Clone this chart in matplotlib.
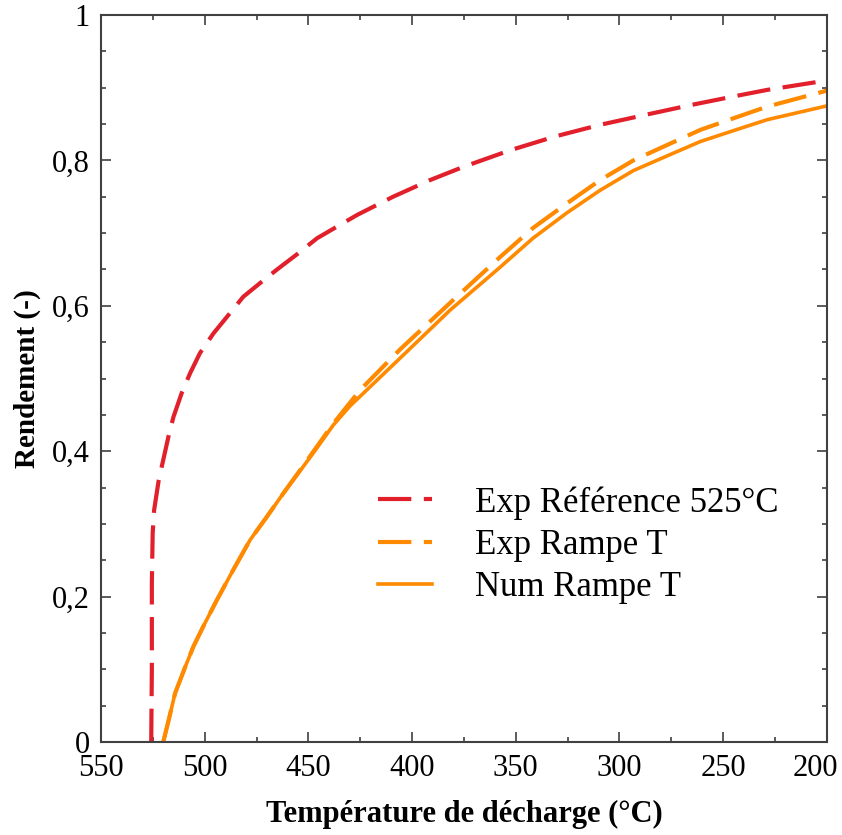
import matplotlib
matplotlib.use("Agg")
import matplotlib.pyplot as plt
import matplotlib.transforms as mtransforms
from matplotlib.ticker import FixedLocator, FixedFormatter, MultipleLocator

# Data
ref_T = [525.8, 525.5, 525.5, 525.1, 524.4, 522.2, 520.0, 517.5, 515.1, 511.1, 507.1,
         502.3, 495.8, 487.8, 481.4, 471.7, 465.1, 455.0, 445.8, 426.5, 409.2, 391.3,
         375.4, 352.7, 331.0, 309.3, 287.0, 265.9, 245.0, 228.8, 200.0]
ref_eta = [0.0, 0.10, 0.218, 0.287, 0.319, 0.360, 0.388, 0.420, 0.447, 0.480, 0.507,
           0.535, 0.562, 0.590, 0.6125, 0.635, 0.650, 0.672, 0.693, 0.725, 0.750, 0.773,
           0.791, 0.814, 0.833, 0.849, 0.863, 0.876, 0.888, 0.897, 0.910]

exp_T = [520.0, 517.4, 514.3, 509.3, 505.5, 500.7, 494.2, 486.2, 478.1, 470.0, 462.1,
         454.0, 446.0, 438.0, 425.1, 405.8, 393.0, 381.7, 357.6, 341.7, 325.3, 309.3,
         293.3, 277.2, 261.0, 245.0, 228.8, 200.0]
exp_eta = [0.0, 0.030, 0.067, 0.104, 0.131, 0.159, 0.195, 0.237, 0.278, 0.310, 0.342,
           0.374, 0.406, 0.438, 0.484, 0.540, 0.574, 0.604, 0.667, 0.707, 0.741, 0.773,
           0.800, 0.821, 0.842, 0.858, 0.874, 0.896]

num_T = [520.0, 517.4, 514.3, 509.3, 505.5, 500.7, 494.2, 486.2, 478.1, 470.0, 462.1,
         454.0, 446.0, 438.0, 430.0, 405.8, 393.0, 381.7, 357.6, 341.7, 325.3, 309.3,
         293.3, 277.2, 261.0, 245.0, 228.8, 200.0]
num_eta = [0.0, 0.030, 0.067, 0.104, 0.131, 0.159, 0.195, 0.237, 0.278, 0.310, 0.342,
           0.373, 0.404, 0.436, 0.462, 0.528, 0.563, 0.594, 0.653, 0.693, 0.728, 0.759,
           0.786, 0.806, 0.826, 0.841, 0.856, 0.875]

labels = ["Exp Référence 525°C", "Exp Rampe T", "Num Rampe T"]
x_ticks = [550, 500, 450, 400, 350, 300, 250, 200]
x_ticklabels = ["550", "500", "450", "400", "350", "300", "250", "200"]
y_ticks = [0, 0.2, 0.4, 0.6, 0.8, 1.0]
y_ticklabels = ["0", "0,2", "0,4", "0,6", "0,8", "1"]

plt.rcParams['font.family'] = ['Liberation Serif', 'DejaVu Serif']

red = '#E2202C'
orange = '#FF8A00'

fig = plt.figure(figsize=(8.42, 8.35), dpi=100)
ax = fig.add_axes([0.12, 0.1114, 0.862, 0.8706])

kw = dict(solid_joinstyle='round', dash_joinstyle='round')
ax.plot(ref_T, ref_eta, color=red, lw=3.0, dashes=(8, 3), label=labels[0], **kw)
ax.plot(exp_T, exp_eta, color=orange, lw=3.0, dashes=(8, 3), label=labels[1], **kw)
ax.plot(num_T, num_eta, color=orange, lw=2.6, label=labels[2], **kw)

ax.set_xlim(550, 200)
ax.set_ylim(0, 1)

ax.xaxis.set_major_locator(FixedLocator(x_ticks))
ax.xaxis.set_major_formatter(FixedFormatter(x_ticklabels))
ax.xaxis.set_minor_locator(MultipleLocator(25))
ax.yaxis.set_major_locator(FixedLocator(y_ticks))
ax.yaxis.set_major_formatter(FixedFormatter(y_ticklabels))
ax.yaxis.set_minor_locator(MultipleLocator(0.05))

ax.tick_params(which='both', direction='in', top=True, right=True, color='#404040', width=1.2)
ax.tick_params(which='major', length=7, labelsize=22)
ax.tick_params(axis='x', which='major', pad=9)
ax.tick_params(axis='y', which='major', pad=8)
ax.tick_params(which='minor', length=3.5)
for s in ax.spines.values():
    s.set_color('#404040')
    s.set_linewidth(1.5)

ax.set_xlabel("Température de décharge (°C)", fontsize=22, fontweight='bold', labelpad=12)
ax.set_ylabel("Rendement (-)", fontsize=21, fontweight='bold', labelpad=8)

leg = ax.legend(loc='upper left', bbox_to_anchor=(0.381, 0.352), frameon=False, fontsize=25,
                handlelength=1.56, handletextpad=1.24, labelspacing=0.27,
                borderaxespad=0, borderpad=0)

fig.canvas.draw()
last = ax.get_xticklabels()[-1]
last.set_transform(last.get_transform() + mtransforms.ScaledTranslation(-0.11, 0, fig.dpi_scale_trans))

fig.savefig("out.png", dpi=100)
